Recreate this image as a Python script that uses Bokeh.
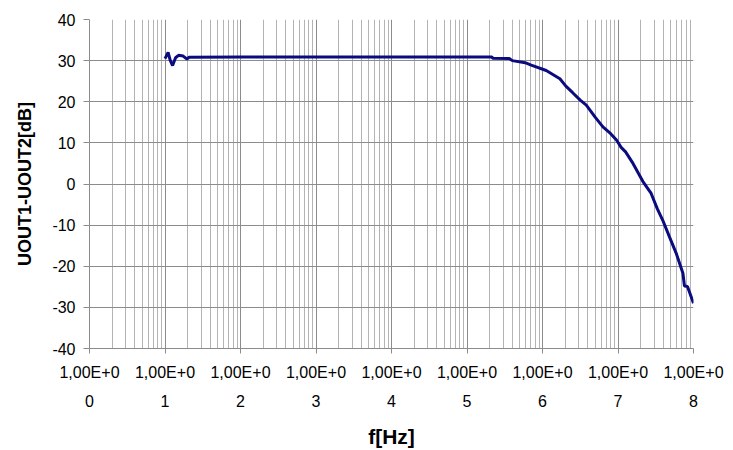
from bokeh.plotting import figure
from bokeh.models import FixedTicker, LogAxis
from bokeh.embed import file_html
from bokeh.resources import INLINE

# Measured response: frequency [Hz] and difference of outputs [dB]
freq_hz = [10, 11, 11.7, 12.6, 13.8, 15.1, 17.4, 19.5, 20.9,
           100, 1000, 1e4, 1e5, 2.14e5, 2.19e5, 3.63e5, 3.98e5, 5.89e5,
           7.08e5, 1.12e6, 1.70e6, 2.04e6, 2.51e6, 3.16e6, 3.80e6, 5.01e6,
           6.31e6, 7.94e6, 9.55e6, 1.10e7, 1.26e7, 1.58e7, 2.14e7, 2.75e7,
           3.31e7, 3.89e7, 4.79e7, 5.89e7, 7.24e7, 7.59e7, 8.32e7, 1e8]
gain_db = [30.5, 32.0, 30.1, 28.8, 30.7, 31.3, 31.1, 30.4, 30.8,
           30.9, 30.9, 30.9, 30.9, 30.9, 30.6, 30.5, 30.0, 29.5,
           28.9, 27.6, 25.6, 23.8, 22.2, 20.4, 19.2, 16.2,
           13.9, 12.3, 10.7, 8.9, 7.8, 5.0, 0.6, -2.3,
           -6.0, -8.7, -12.8, -16.8, -21.7, -24.8, -24.9, -29.0]

# Axis tick positions and labels
decade_exponents = [0, 1, 2, 3, 4, 5, 6, 7, 8]
mantissa_label = "1,00E+0"
exponent_labels = ["0", "1", "2", "3", "4", "5", "6", "7", "8"]
y_ticks = [-40, -30, -20, -10, 0, 10, 20, 30, 40]
y_tick_labels = ["-40", "-30", "-20", "-10", "0", "10", "20", "30", "40"]

decades = [10 ** e for e in decade_exponents]
minors = [m * 10 ** e for e in decade_exponents[:-1] for m in range(2, 10)]
x_ticker = FixedTicker(ticks=decades, minor_ticks=minors)

FONT = "Liberation Sans"
FRAME_LEFT, FRAME_RIGHT, FRAME_TOP, FRAME_BOTTOM = 89, 693, 19, 350

p = figure(width=733, height=450, x_axis_type="log",
           x_range=(1, 1e8), y_range=(-40, 40),
           output_backend="svg", toolbar_location=None,
           min_border_left=FRAME_LEFT, min_border_right=733 - FRAME_RIGHT,
           min_border_top=FRAME_TOP, min_border_bottom=450 - FRAME_BOTTOM)
p.outline_line_color = None
p.background_fill_color = "white"
p.border_fill_color = "white"

# grids: decades plus 2..9 minor lines
p.xgrid.ticker = x_ticker
p.xgrid.grid_line_color = "#8c8c8c"
p.xgrid.minor_grid_line_color = "#b4b4b4"
p.ygrid.ticker = FixedTicker(ticks=y_ticks)
p.ygrid.grid_line_color = "#8c8c8c"

# first row of x labels (mantissa)
xa = p.xaxis[0]
xa.ticker = x_ticker
xa.major_label_overrides = {d: mantissa_label for d in decades}
xa.axis_line_color = "#8c8c8c"
xa.major_tick_line_color = "#8c8c8c"
xa.major_tick_out = 5
xa.major_tick_in = 0
xa.minor_tick_line_color = None
xa.major_label_standoff = 10
xa.major_label_text_font = FONT
xa.major_label_text_font_size = "16px"
xa.major_label_text_color = "black"

# second row of x labels (exponent) and the axis title
xb = LogAxis(ticker=x_ticker,
             major_label_overrides={d: s for d, s in zip(decades, exponent_labels)})
xb.axis_line_color = None
xb.major_tick_line_color = None
xb.minor_tick_line_color = None
xb.major_label_standoff = 5
xb.major_label_text_font = FONT
xb.major_label_text_font_size = "16px"
xb.major_label_text_color = "black"
xb.axis_label = "f[Hz]"
xb.axis_label_text_font = FONT
xb.axis_label_text_font_style = "bold"
xb.axis_label_text_font_size = "21px"
xb.axis_label_text_color = "black"
xb.axis_label_standoff = 15
p.add_layout(xb, "below")

ya = p.yaxis[0]
ya.ticker = FixedTicker(ticks=y_ticks)
ya.major_label_overrides = {t: s for t, s in zip(y_ticks, y_tick_labels)}
ya.axis_line_color = "#8c8c8c"
ya.major_tick_line_color = "#8c8c8c"
ya.major_tick_out = 6
ya.major_tick_in = 0
ya.minor_tick_line_color = None
ya.major_label_standoff = 8
ya.major_label_text_font = FONT
ya.major_label_text_font_size = "16px"
ya.major_label_text_color = "black"
ya.axis_label = "UOUT1-UOUT2[dB]"
ya.axis_label_text_font = FONT
ya.axis_label_text_font_style = "bold"
ya.axis_label_text_font_size = "18px"
ya.axis_label_text_color = "black"
ya.axis_label_standoff = 14

p.line(freq_hz, gain_db, line_color="#0b0b80", line_width=3)

open("out.html", "w").write(file_html(p, INLINE))
